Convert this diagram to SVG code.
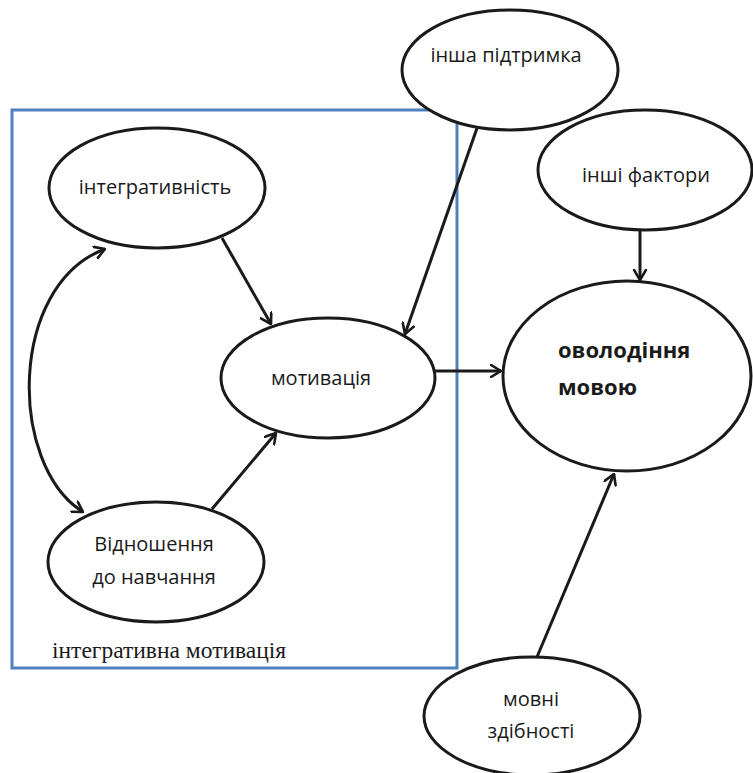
<svg xmlns="http://www.w3.org/2000/svg" width="753" height="773" viewBox="0 0 753 773">
<style>
.node ellipse{fill:#fff;stroke:#1a1a1a;stroke-width:3}
.lbl{font-family:"Open Sans","Noto Sans","DejaVu Sans",sans-serif;font-size:20px;fill:#1a1a1a;text-anchor:middle}
.bold{font-weight:bold;text-anchor:start;font-size:22px}
.serif{font-family:"Liberation Serif","Times New Roman",serif;font-size:23.5px;fill:#1a1a1a}
.conn{fill:none;stroke:#1a1a1a;stroke-width:3}
</style>
<defs>
<marker id="arr" viewBox="0 0 12 14" refX="11" refY="7" markerWidth="12" markerHeight="14" markerUnits="userSpaceOnUse" orient="auto-start-reverse">
<path d="M1,1 L11,7 L1,13" fill="none" stroke="#1a1a1a" stroke-width="2.6" stroke-linecap="round" stroke-linejoin="round"/>
</marker>
</defs>
<rect id="group-box" x="12" y="110" width="445" height="558" fill="none" stroke="#4f81bd" stroke-width="3"/>
<text class="serif" x="52" y="658">інтегративна мотивація</text>
<g id="connectors">
<line class="conn" x1="222" y1="238" x2="271" y2="324" marker-end="url(#arr)"/>
<line class="conn" x1="483" y1="111" x2="405" y2="334" marker-end="url(#arr)"/>
<line class="conn" x1="212" y1="509" x2="276" y2="433" marker-end="url(#arr)"/>
<line class="conn" x1="435" y1="371" x2="501" y2="371" marker-end="url(#arr)"/>
<line class="conn" x1="640" y1="230" x2="640" y2="280" marker-end="url(#arr)"/>
<line class="conn" x1="537" y1="657" x2="614" y2="474" marker-end="url(#arr)"/>
<path class="conn" d="M105,249 C8,285 8,465 83,512" marker-start="url(#arr)" marker-end="url(#arr)"/>
</g>
<g id="integrativnist" class="node">
<ellipse cx="157" cy="188" rx="108" ry="60"/>
<text class="lbl" x="155" y="194">інтегративність</text>
</g>
<g id="motyvatsiia" class="node">
<ellipse cx="328" cy="378" rx="107" ry="60"/>
<text class="lbl" x="321" y="385">мотивація</text>
</g>
<g id="vidnoshennia" class="node">
<ellipse cx="156" cy="562" rx="108" ry="60"/>
<text class="lbl" x="154" y="551">Відношення</text>
<text class="lbl" x="154" y="584">до навчання</text>
</g>
<g id="insha-pidtrymka" class="node">
<ellipse cx="510" cy="70" rx="108" ry="60"/>
<text class="lbl" x="506" y="62">інша підтримка</text>
</g>
<g id="inshi-faktory" class="node">
<ellipse cx="645" cy="170" rx="107" ry="60"/>
<text class="lbl" x="646" y="182">інші фактори</text>
</g>
<g id="ovolodinnia" class="node">
<ellipse cx="627" cy="376" rx="124" ry="95"/>
<text class="lbl bold" x="558" y="358">оволодіння</text>
<text class="lbl bold" x="558" y="395">мовою</text>
</g>
<g id="movni-zdibnosti" class="node">
<ellipse cx="532" cy="716" rx="108" ry="59"/>
<text class="lbl" x="531" y="706">мовні</text>
<text class="lbl" x="531" y="738">здібності</text>
</g>
</svg>
